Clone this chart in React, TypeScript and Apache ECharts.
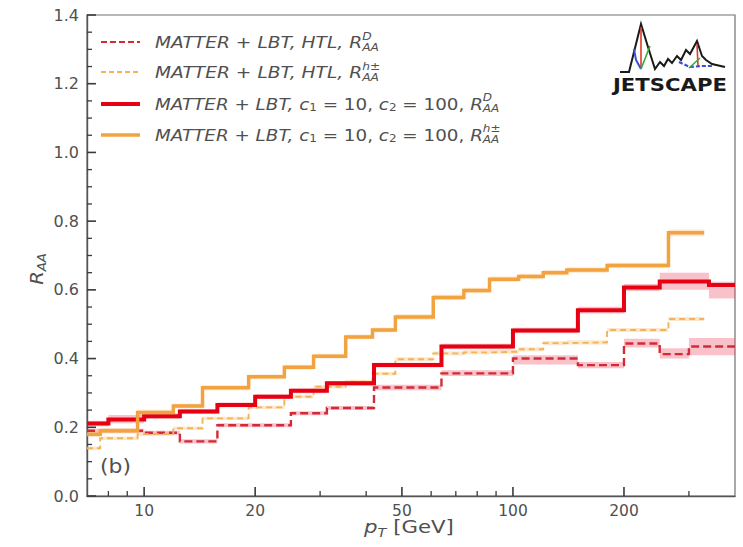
import React, { useEffect, useRef } from 'react';
import * as echarts from 'echarts';

// ---------- data ----------
const hadronEdges = [7, 7.6, 9.6, 12, 14.4, 19.2, 24, 28.8, 35.2, 41.6, 48, 60.8, 73.6, 86.4, 103.6, 120.8, 140, 180, 264, 330];
const hadronC1C2 = [0.18, 0.19, 0.243, 0.262, 0.315, 0.347, 0.375, 0.407, 0.463, 0.483, 0.521, 0.578, 0.598, 0.631, 0.639, 0.65, 0.658, 0.671, 0.766];
const hadronC1C2Err = [0.008, 0.008, 0.008, 0.007, 0.007, 0.007, 0.007, 0.007, 0.007, 0.007, 0.008, 0.008, 0.008, 0.008, 0.008, 0.008, 0.008, 0.008, 0.01];
const hadronHTL = [0.139, 0.168, 0.18, 0.197, 0.226, 0.258, 0.289, 0.318, 0.333, 0.356, 0.398, 0.415, 0.418, 0.42, 0.427, 0.445, 0.447, 0.483, 0.515];
const hadronHTLErr = [0.005, 0.005, 0.005, 0.005, 0.005, 0.005, 0.005, 0.005, 0.005, 0.005, 0.006, 0.006, 0.006, 0.006, 0.006, 0.006, 0.006, 0.006, 0.006];

const dEdges = [7, 8, 10, 12.5, 15.8, 20, 25, 31.3, 42, 64, 100, 150, 200, 250, 340, 400];
const dC1C2 = [0.211, 0.223, 0.232, 0.246, 0.265, 0.289, 0.306, 0.328, 0.381, 0.435, 0.482, 0.541, 0.607, 0.624, 0.614];
const dC1C2Low = [0.203, 0.212, 0.225, 0.239, 0.258, 0.282, 0.299, 0.321, 0.374, 0.427, 0.474, 0.531, 0.597, 0.6, 0.575];
const dC1C2High = [0.219, 0.236, 0.24, 0.253, 0.272, 0.296, 0.313, 0.335, 0.388, 0.443, 0.49, 0.551, 0.617, 0.65, 0.624];

const dHTLEdges = [7, 10, 12.5, 15.8, 25, 31.3, 42, 64, 100, 150, 200, 250, 300, 400];
const dHTL = [0.19, 0.184, 0.159, 0.206, 0.241, 0.256, 0.316, 0.357, 0.4, 0.381, 0.444, 0.413, 0.435];
const dHTLLow = [0.184, 0.178, 0.153, 0.2, 0.235, 0.25, 0.308, 0.349, 0.383, 0.372, 0.432, 0.4, 0.41];
const dHTLHigh = [0.196, 0.19, 0.165, 0.212, 0.247, 0.262, 0.324, 0.366, 0.41, 0.39, 0.458, 0.43, 0.46];

const xMajorTicks = [10, 20, 50, 100, 200];
const xMinorTicks = [8, 9, 30, 40, 60, 70, 80, 90, 300];
const yMajorTicks = [0, 0.2, 0.4, 0.6, 0.8, 1.0, 1.2, 1.4];
const yMinorTicks = [0.05, 0.1, 0.15, 0.25, 0.3, 0.35, 0.45, 0.5, 0.55, 0.65, 0.7, 0.75, 0.85, 0.9, 0.95, 1.05, 1.1, 1.15, 1.25, 1.3, 1.35];

// ---------- styles ----------
const RED = '#e60012';
const RED_DASH = '#d42a35';
const ORANGE = '#f2a340';
const ORANGE_DASH = '#f4b354';
const RED_BAND = 'rgba(238, 70, 95, 0.33)';
const ORANGE_BAND = 'rgba(245, 170, 70, 0.28)';
const TXT = '#505050';
const AXIS = '#555555';
const TICK = '#3a3a3a';
const FONT = 'DejaVu Sans';
const SX = 1.15;
const X_MIN = 7, X_MAX = 400, Y_MIN = 0, Y_MAX = 1.4;

let mctx: CanvasRenderingContext2D | null = null;
function tw(t: string, size: number, italic: boolean, bold = false) {
  if (!mctx) mctx = document.createElement('canvas').getContext('2d');
  if (!mctx) return t.length * size * 0.6;
  mctx.font = `${italic ? 'italic ' : ''}${bold ? 'bold ' : ''}${size}px "${FONT}"`;
  return mctx.measureText(t).width;
}

type Piece = { t: string; size: number; italic: boolean; dy: number; advance?: boolean };
function layoutPieces(pieces: Piece[], color: string) {
  let x = 0;
  const els: any[] = [];
  for (const p of pieces) {
    const lead = p.t.length - p.t.replace(/^\s+/, '').length;
    const leadW = lead ? tw(p.t.slice(0, lead), p.size, p.italic) : 0;
    const txt = p.t.trim();
    if (txt) {
      els.push({
        type: 'text', x: x + leadW, y: p.dy, silent: true,
        style: { text: txt, fontSize: p.size, fontFamily: FONT, fontStyle: p.italic ? 'italic' : 'normal', fill: color, align: 'left', verticalAlign: 'middle' },
      });
    }
    if (p.advance !== false) x += tw(p.t, p.size, p.italic);
  }
  return { els, width: x };
}

function stepPoints(edges: number[], vals: number[]) {
  const pts: number[][] = [];
  vals.forEach((v, i) => { pts.push([edges[i], v], [edges[i + 1], v]); });
  return pts;
}

function bandSeries(edges: number[], lo: number[], hi: number[], color: string, z: number) {
  return {
    type: 'custom', silent: true, z,
    data: lo.map((l, i) => [edges[i], edges[i + 1], l, hi[i]]),
    encode: { x: [0, 1], y: [2, 3] },
    renderItem: (params: any, api: any) => {
      const a = api.coord([api.value(0), api.value(3)]);
      const b = api.coord([api.value(1), api.value(2)]);
      return { type: 'rect', shape: { x: a[0], y: a[1], width: b[0] - a[0], height: b[1] - a[1] }, style: { fill: color } };
    },
  };
}

// inward-pointing axis ticks placed through the axes' own scales
function tickSeries() {
  const data: number[][] = [];
  xMajorTicks.forEach((v) => data.push([v, Y_MIN, 0, 9]));
  xMinorTicks.forEach((v) => data.push([v, Y_MIN, 0, 5]));
  yMajorTicks.forEach((v) => data.push([X_MIN, v, 1, 9]));
  yMinorTicks.forEach((v) => data.push([X_MIN, v, 1, 5]));
  return {
    type: 'custom', silent: true, z: 6, clip: false,
    data,
    encode: { x: 0, y: 1 },
    renderItem: (params: any, api: any) => {
      const p = api.coord([api.value(0), api.value(1)]);
      const len = api.value(3);
      const isY = api.value(2) === 1;
      return {
        type: 'line',
        shape: isY ? { x1: p[0], y1: p[1], x2: p[0] + len, y2: p[1] } : { x1: p[0], y1: p[1], x2: p[0], y2: p[1] - len },
        style: { stroke: TICK, lineWidth: len > 6 ? 1.6 : 1.3 },
      };
    },
  };
}

function lineSeries(name: string, edges: number[], vals: number[], color: string, width: number, dash: any, z: number) {
  return {
    name, type: 'line', data: stepPoints(edges, vals), symbol: 'none', showSymbol: false, z,
    lineStyle: { color, width, type: dash, cap: 'butt', join: 'miter' }, silent: true,
  };
}

function legendRow(y: number, color: string, width: number, dash: number[] | null, variant: 'htl' | 'c', sup: string) {
  const F = 16, S = 10.5;
  const pieces: Piece[] = variant === 'htl'
    ? [{ t: 'MATTER + LBT, HTL, ', size: F, italic: true, dy: 0 }]
    : [
        { t: 'MATTER + LBT, ', size: F, italic: true, dy: 0 },
        { t: 'c', size: F, italic: true, dy: 0 },
        { t: '1', size: S, italic: false, dy: 4 },
        { t: ' = 10, ', size: F, italic: false, dy: 0 },
        { t: 'c', size: F, italic: true, dy: 0 },
        { t: '2', size: S, italic: false, dy: 4 },
        { t: ' = 100, ', size: F, italic: false, dy: 0 },
      ];
  pieces.push(
    { t: 'R', size: F, italic: true, dy: 0 },
    { t: sup, size: S, italic: true, dy: -6, advance: false },
    { t: 'AA', size: S, italic: true, dy: 5 },
  );
  const { els } = layoutPieces(pieces, TXT);
  return [
    { type: 'line', silent: true, shape: { x1: 101, y1: y, x2: 140, y2: y }, style: { stroke: color, lineWidth: width, lineDash: dash || undefined } },
    { type: 'group', x: 155, y, scaleX: variant === 'htl' ? 1.165 : 1.145, children: els },
  ];
}

function buildGraphic() {
  const g: any[] = [];
  g.push(...legendRow(42, RED_DASH, 2.2, [6, 3], 'htl', 'D'));
  g.push(...legendRow(72, ORANGE_DASH, 1.8, [5, 3], 'htl', 'h±'));
  g.push(...legendRow(104, RED, 4, null, 'c', 'D'));
  g.push(...legendRow(135, ORANGE, 3.5, null, 'c', 'h±'));

  // y-axis title R_AA (rotated)
  const yt = layoutPieces([
    { t: 'R', size: 17, italic: true, dy: 0 },
    { t: 'AA', size: 11.5, italic: true, dy: 5 },
  ], TXT);
  g.push({ type: 'group', x: 37, y: 269 + (yt.width * SX) / 2, rotation: Math.PI / 2, scaleX: SX, children: yt.els });

  // x-axis title p_T [GeV]
  const xt = layoutPieces([
    { t: 'p', size: 18.5, italic: true, dy: 0 },
    { t: 'T', size: 12.5, italic: true, dy: 5 },
    { t: ' [GeV]', size: 18.5, italic: false, dy: 0 },
  ], TXT);
  g.push({ type: 'group', x: 409 - (xt.width * SX) / 2, y: 527, scaleX: SX, children: xt.els });

  // panel label
  g.push({ type: 'group', x: 100, y: 467, scaleX: SX, children: [
    { type: 'text', silent: true, style: { text: '(b)', fontSize: 19, fontFamily: FONT, fill: TXT, align: 'left', verticalAlign: 'middle' } },
  ] });

  // JETSCAPE logo
  g.push({ type: 'polyline', silent: true, shape: { points: [[620, 72], [629, 72], [641, 24], [648, 47], [655, 69], [660, 62], [664, 66], [668, 59], [672, 63], [677, 56], [681, 60], [686, 50], [690, 54], [697, 41], [702, 56], [706, 60], [712, 64], [725, 67]] }, style: { stroke: '#1a1a1a', lineWidth: 2, fill: null } });
  g.push({ type: 'line', silent: true, shape: { x1: 641, y1: 27, x2: 641, y2: 69 }, style: { stroke: '#e03a2a', lineWidth: 1.6 } });
  g.push({ type: 'polyline', silent: true, shape: { points: [[634, 49], [636, 60], [641, 69]] }, style: { stroke: '#3a4fd8', lineWidth: 2, fill: null } });
  g.push({ type: 'line', silent: true, shape: { x1: 641, y1: 69, x2: 650, y2: 46 }, style: { stroke: '#3aa83a', lineWidth: 1.6 } });
  g.push({ type: 'line', silent: true, shape: { x1: 697, y1: 44, x2: 698, y2: 66 }, style: { stroke: '#e03a2a', lineWidth: 1.6 } });
  g.push({ type: 'polyline', silent: true, shape: { points: [[679, 62], [690, 67], [702, 66], [713, 66]] }, style: { stroke: '#3a4fd8', lineWidth: 2.2, lineDash: [4, 2], fill: null } });
  g.push({ type: 'line', silent: true, shape: { x1: 689, y1: 68, x2: 700, y2: 58 }, style: { stroke: '#3aa83a', lineWidth: 1.6 } });
  const jw = tw('JETSCAPE', 17, false, true);
  g.push({ type: 'group', x: 613, y: 85, scaleX: 114 / jw, children: [
    { type: 'text', silent: true, style: { text: 'JETSCAPE', fontSize: 17, fontWeight: 'bold', fontFamily: FONT, fill: '#1a1a1a', align: 'left', verticalAlign: 'middle' } },
  ] });
  return g;
}

function buildOption() {
  const hHiC = hadronC1C2.map((v, i) => v + hadronC1C2Err[i]);
  const hLoC = hadronC1C2.map((v, i) => v - hadronC1C2Err[i]);
  const hHiH = hadronHTL.map((v, i) => v + hadronHTLErr[i]);
  const hLoH = hadronHTL.map((v, i) => v - hadronHTLErr[i]);
  return {
    animation: false,
    backgroundColor: '#ffffff',
    grid: { left: 87, right: 8, top: 15, bottom: 51, show: true, borderColor: '#707070', borderWidth: 1.2, backgroundColor: 'transparent', outerBoundsMode: 'none' },
    xAxis: {
      type: 'log', logBase: 10, min: X_MIN, max: X_MAX,
      axisLine: { show: true, lineStyle: { color: AXIS, width: 1.4 } },
      axisTick: { show: false },
      axisLabel: { show: true, customValues: xMajorTicks, formatter: (v: number) => String(Math.round(v)), color: TXT, fontSize: 15.5, fontFamily: FONT, margin: 7 },
      splitLine: { show: false }, minorTick: { show: false }, minorSplitLine: { show: false },
    },
    yAxis: {
      type: 'value', min: Y_MIN, max: Y_MAX, interval: 0.2,
      axisLine: { show: true, lineStyle: { color: AXIS, width: 1.4 } },
      axisTick: { show: false },
      minorTick: { show: false },
      axisLabel: { color: TXT, fontSize: 16, fontFamily: FONT, margin: 8, formatter: (v: number) => v.toFixed(1) },
      splitLine: { show: false },
    },
    series: [
      bandSeries(hadronEdges, hLoH, hHiH, ORANGE_BAND, 1),
      bandSeries(dHTLEdges, dHTLLow, dHTLHigh, RED_BAND, 1),
      bandSeries(hadronEdges, hLoC, hHiC, ORANGE_BAND, 1),
      bandSeries(dEdges, dC1C2Low, dC1C2High, RED_BAND, 1),
      lineSeries('HTL D', dHTLEdges, dHTL, RED_DASH, 2.4, [8, 4], 3),
      lineSeries('HTL h', hadronEdges, hadronHTL, ORANGE_DASH, 1.9, [6, 4], 3),
      lineSeries('c1c2 D', dEdges, dC1C2, RED, 4, 'solid', 4),
      lineSeries('c1c2 h', hadronEdges, hadronC1C2, ORANGE, 3.5, 'solid', 4),
      tickSeries(),
    ],
    graphic: buildGraphic(),
  };
}

export default function App() {
  const ref = useRef<HTMLDivElement>(null);
  useEffect(() => {
    document.body.style.margin = '0';
    const chart = echarts.init(ref.current!, null, { renderer: 'svg' });
    chart.setOption(buildOption() as any);
    return () => chart.dispose();
  }, []);
  return <div ref={ref} style={{ width: 743, height: 547, background: '#fff' }} />;
}
